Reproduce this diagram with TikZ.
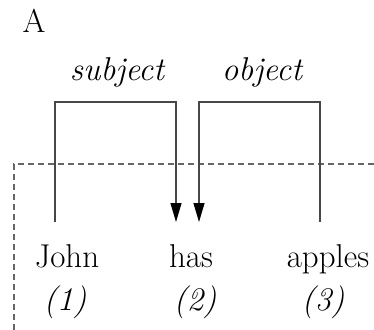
\documentclass[tikz,border=0pt]{standalone}
\usetikzlibrary{arrows.meta}
\begin{document}
\begin{tikzpicture}[x=1pt,y=-1pt,
  txt/.style={inner sep=0pt,anchor=base,font=\fontsize{33}{39}\selectfont},
  itxt/.style={txt,font=\fontsize{33}{39}\selectfont\itshape},
  link/.style={line width=1.1pt,draw=black!72},
  arr/.style={link,-{Triangle[length=19pt,width=11pt,fill=black,color=black]},shorten >=0pt},
  frame/.style={line width=1.1pt,draw=black!60,dash pattern=on 6pt off 4pt}]
\useasboundingbox (0,0) rectangle (374,329);
% frame
\draw[frame] (374,164) -- (14,164) -- (14,332) -- (374,332);
% labels
\node[txt] (A) at (34,33) {A};
\node[itxt] (subj) at (117,80) {subject};
\node[itxt] (obj) at (262,80) {object};
% words
\node[txt] (john) at (67,267) {John};
\node[txt] (has) at (191,267) {has};
\node[txt] (apples) at (328,267) {apples};
\node[itxt] (n1) at (65,310) {(1)};
\node[itxt] (n2) at (195,310) {(2)};
\node[itxt] (n3) at (323,310) {(3)};
% connector ends
\coordinate (js) at (55,222);
\coordinate (hs) at (176,222);
\coordinate (ho) at (199,222);
\coordinate (ao) at (320,222);
\coordinate (top1) at (55,102);
\coordinate (top2) at (320,102);
\draw[arr] (js) -- (top1) -| (hs);
\draw[arr] (ao) -- (top2) -| (ho);
\end{tikzpicture}
\end{document}
